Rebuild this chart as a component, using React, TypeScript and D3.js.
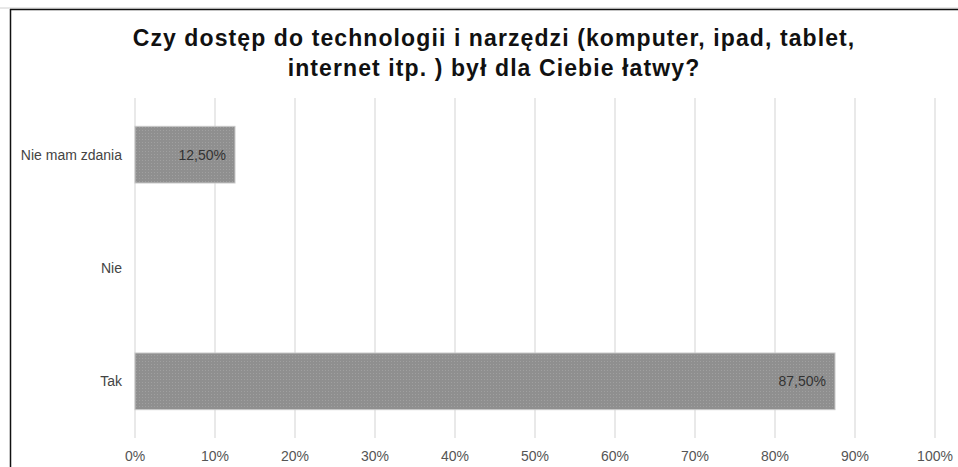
import React from "react";
import * as d3 from "d3";

const categories = ["Nie mam zdania", "Nie", "Tak"];
const values = [12.5, 0, 87.5];
const valueLabels = ["12,50%", "", "87,50%"];
const ticks = [0, 10, 20, 30, 40, 50, 60, 70, 80, 90, 100];
const titleLines = [
  "Czy dostęp do technologii i narzędzi (komputer, ipad, tablet,",
  "internet itp. ) był dla Ciebie łatwy?",
];

export default function App() {
  const W = 958;
  const H = 467;
  const x = d3.scaleLinear().domain([0, 100]).range([135, 935]);
  const y = d3.scaleBand<string>().domain(categories).range([98, 438]).paddingInner(0.5).paddingOuter(0.25);
  const font = "'Liberation Sans', Arial, sans-serif";
  return (
    <svg width={W} height={H} style={{ position: "absolute", left: 0, top: 0, background: "#fff" }}>
      <defs>
        <pattern id="dots" width="3" height="3" patternUnits="userSpaceOnUse">
          <rect width="3" height="3" fill="#8f8f8f" />
          <rect x="1" y="1" width="1" height="1" fill="#a0a0a0" />
        </pattern>
      </defs>
      <rect x={0} y={0} width={W} height={H} fill="#fff" />
      <line x1={0} x2={W} y1={8} y2={8} stroke="#d0d0d0" strokeWidth={1} />
      <line x1={10} x2={W} y1={9.5} y2={9.5} stroke="#111" strokeWidth={1.5} />
      <line x1={10.5} x2={10.5} y1={9} y2={H} stroke="#111" strokeWidth={1.5} />
      {titleLines.map((t, i) => (
        <text key={i} x={494} y={46 + i * 30} textAnchor="middle" fontFamily={font} fontWeight="bold" fontSize={23} letterSpacing={1.1} fill="#111">
          {t}
        </text>
      ))}
      {ticks.map((t) => (
        <g key={t}>
          <line x1={x(t)} x2={x(t)} y1={98} y2={438} stroke="#e2e2e2" strokeWidth={1.5} />
          <text x={x(t)} y={461} textAnchor="middle" fontFamily={font} fontSize={14} fill="#555">
            {t}%
          </text>
        </g>
      ))}
      {categories.map((c, i) => {
        const yy = y(c)!;
        const bh = y.bandwidth();
        return (
          <g key={c}>
            <text x={122} y={yy + bh / 2 + 5} textAnchor="end" fontFamily={font} fontSize={14} fill="#444">
              {c}
            </text>
            {values[i] > 0 && (
              <>
                <rect x={x(0)} y={yy} width={x(values[i]) - x(0)} height={bh} fill="url(#dots)" stroke="#c8c8c8" strokeWidth={1} />
                <text x={x(values[i]) - 9} y={yy + bh / 2 + 5} textAnchor="end" fontFamily={font} fontSize={14} fill="#333">
                  {valueLabels[i]}
                </text>
              </>
            )}
          </g>
        );
      })}
    </svg>
  );
}
